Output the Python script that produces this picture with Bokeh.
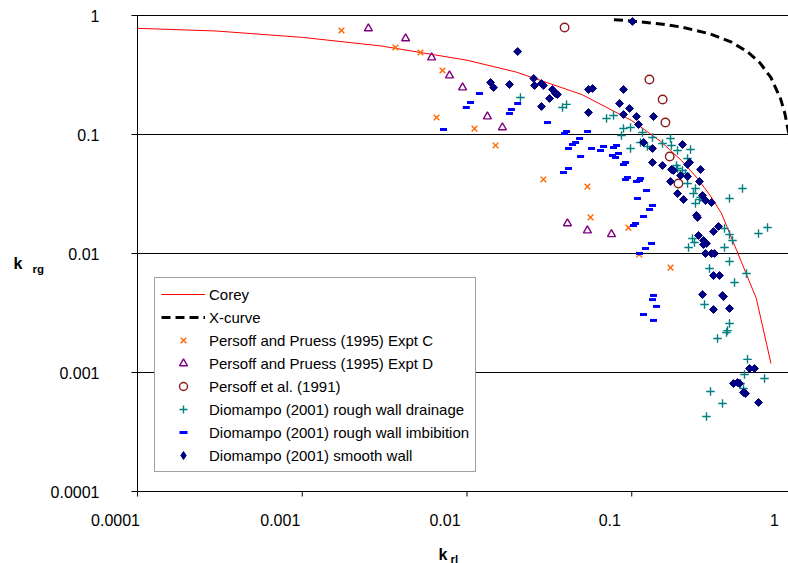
import math
from bokeh.plotting import figure
from bokeh.models import Legend, LegendItem
from bokeh.core.properties import value
from bokeh.embed import file_html
from bokeh.resources import INLINE

FONT = "Liberation Sans"

# ---------------- data ----------------
x_tick_values = [0.0001, 0.001, 0.01, 0.1, 1]
x_tick_labels = ["0.0001", "0.001", "0.01", "0.1", "1"]
y_tick_values = [0.0001, 0.001, 0.01, 0.1, 1]
y_tick_labels = ["0.0001", "0.001", "0.01", "0.1", "1"]

corey_krl = [0.0001, 0.0003, 0.001, 0.003, 0.01, 0.02, 0.05, 0.1, 0.15, 0.2, 0.25, 0.3, 0.35, 0.57, 0.7]
corey_krg = [0.78, 0.741, 0.655, 0.555, 0.421, 0.334, 0.216, 0.131, 0.0874, 0.0606, 0.0429, 0.0306, 0.0218, 0.0042, 0.00119]

xcurve_krl = [0.078, 0.1, 0.15, 0.2, 0.3, 0.4, 0.5, 0.6, 0.7, 0.8, 0.85, 0.9, 0.95, 0.99]
xcurve_krg = [0.922, 0.9, 0.85, 0.8, 0.7, 0.6, 0.5, 0.4, 0.3, 0.2, 0.15, 0.1, 0.05, 0.01]

exptc_krl = [0.00173, 0.00368, 0.00522, 0.0071, 0.00653, 0.0111, 0.0149, 0.0291, 0.0538, 0.0562, 0.0955, 0.111, 0.172]
exptc_krg = [0.748, 0.538, 0.489, 0.345, 0.139, 0.112, 0.0809, 0.0419, 0.0365, 0.0201, 0.0165, 0.0098, 0.0076]

exptd_krl = [0.00252, 0.00424, 0.0061, 0.00783, 0.0094, 0.0133, 0.0164, 0.0407, 0.0538, 0.0753]
exptd_krg = [0.778, 0.641, 0.443, 0.313, 0.248, 0.1416, 0.1146, 0.0179, 0.0156, 0.0145]

p91_krl = [0.0391, 0.128, 0.154, 0.160, 0.170, 0.192]
p91_krg = [0.792, 0.290, 0.197, 0.126, 0.0653, 0.0387]

drain_krl = [0.0211, 0.038, 0.0402, 0.0703, 0.0775, 0.0891, 0.0983, 0.0866, 0.1162, 0.113, 0.1246, 0.1336,
             0.0983, 0.1537, 0.1718, 0.1742, 0.1896, 0.2274, 0.2181, 0.1869, 0.2032, 0.212, 0.1896, 0.2181,
             0.2437, 0.237, 0.2577, 0.2437, 0.2615, 0.4701, 0.392, 0.3656, 0.392, 0.4089, 0.3656, 0.2337,
             0.2403, 0.2211, 0.392, 0.4971, 0.4205, 0.2964, 0.2764, 0.392, 0.3813, 0.3759, 0.3315, 0.588,
             0.6668, 0.5041, 0.4835, 0.6394, 0.4571, 0.4768, 0.3006, 0.3555, 0.2842]
drain_krg = [0.2046, 0.1686, 0.179, 0.1363, 0.1444, 0.1123, 0.1145, 0.0981, 0.1039, 0.0857, 0.0793, 0.0944,
             0.0763, 0.084, 0.0926, 0.0808, 0.0733, 0.0748, 0.0629, 0.0549, 0.0498, 0.047, 0.0518, 0.0388,
             0.0352, 0.0319, 0.0284, 0.0263, 0.0296, 0.0352, 0.029, 0.01622, 0.01444, 0.01286, 0.01123, 0.01337,
             0.01237, 0.01123, 0.00857, 0.00679, 0.00571, 0.00748, 0.00373, 0.00258, 0.00225, 0.00217, 0.00193, 0.01473,
             0.01654, 0.00129, 0.000962, 0.000891, 0.000808, 0.000734, 0.000692, 0.000549, 0.000427]

imb_krl = [0.0072, 0.0099, 0.0105, 0.0119, 0.0203, 0.0186, 0.0181, 0.0308, 0.0402, 0.0391, 0.0539, 0.0482,
           0.0456, 0.0437, 0.0413, 0.057, 0.0674, 0.0646, 0.0775, 0.0808, 0.0764, 0.0797, 0.0831, 0.0489,
           0.0413, 0.0385, 0.0917, 0.0891, 0.0942, 0.0917, 0.1069, 0.113, 0.1114, 0.1229, 0.1083, 0.1336,
           0.1282, 0.1178, 0.1054, 0.1025, 0.1318, 0.1212, 0.1114, 0.1355, 0.1336, 0.1413, 0.1178, 0.1355]
imb_krg = [0.110, 0.1686, 0.1857, 0.2211, 0.1822, 0.1622, 0.1501, 0.1261, 0.106, 0.102, 0.106, 0.0926,
           0.0857, 0.0824, 0.0763, 0.0763, 0.0793, 0.0733, 0.0778, 0.0808, 0.0666, 0.0641, 0.0692, 0.0653,
           0.0518, 0.0479, 0.0582, 0.056, 0.0435, 0.0419, 0.0403, 0.0427, 0.0411, 0.0338, 0.029, 0.0253,
           0.0234, 0.0205, 0.01787, 0.01719, 0.01213, 0.01101, 0.0100, 0.00444, 0.0041, 0.00359, 0.00307, 0.00274]

smooth_krl = [0.0203, 0.0139, 0.0145, 0.0181, 0.0254, 0.0257, 0.0283, 0.0291, 0.0330, 0.0344, 0.0354, 0.0317,
              0.0283, 0.0546, 0.0578, 0.0546, 0.0843, 0.0891, 0.0969, 0.0891, 0.1069, 0.1355, 0.1099, 0.101,
              0.1178, 0.1336, 0.2032, 0.1336, 0.1537, 0.1742, 0.2242, 0.2181, 0.179, 0.1977, 0.2181, 0.2615,
              0.1718, 0.2577, 0.1896, 0.2061, 0.2688, 0.2803, 0.3048, 0.2472, 0.2507, 0.3362, 0.3134, 0.2542,
              0.2726, 0.2842, 0.2726, 0.2803, 0.3048, 0.3178, 0.3134, 0.3409, 0.2688, 0.3555, 0.3605, 0.3134,
              0.392, 0.5185, 0.5561, 0.4146, 0.4385, 0.4508, 0.4768, 0.4903, 0.588]
smooth_krg = [0.498, 0.2735, 0.2483, 0.2631, 0.2955, 0.2581, 0.2683, 0.2581, 0.2388, 0.2211, 0.2169, 0.2007,
              0.1719, 0.2388, 0.2435, 0.153, 0.1822, 0.2388, 0.1654, 0.1473, 0.1416, 0.1416, 0.1213, 0.890,
              0.0857, 0.0763, 0.0824, 0.0582, 0.0549, 0.0508, 0.0582, 0.056, 0.0498, 0.0452, 0.0444, 0.0508,
              0.0403, 0.0403, 0.0319, 0.0284, 0.0307, 0.0279, 0.0268, 0.0209, 0.0201, 0.01686, 0.01531, 0.01417,
              0.01286, 0.01213, 0.0119, 0.0100, 0.0100, 0.0100, 0.00653, 0.00653, 0.00452, 0.00444, 0.00435, 0.00338,
              0.00345, 0.00108, 0.00108, 0.000808, 0.000824, 0.000808, 0.000679, 0.000666, 0.00056]

# plot-area limits (the visible chart is cropped on the right, near krl = 0.894)
plot_x_min, plot_x_max = 0.0001, 0.894
plot_y_min, plot_y_max = 0.0001, 1

# ---------------- figure ----------------
# The frame fills the whole canvas; the axes, ticks and labels are drawn in the
# margins of the log-scaled frame so nothing is clipped.
W, H = 788, 563
LEFT, TOP, BOTTOM = 137, 15, 72          # pixel margins around the plot area
dec_x = (W - LEFT) / (math.log10(plot_x_max) - math.log10(plot_x_min))
dec_y = (H - TOP - BOTTOM) / (math.log10(plot_y_max) - math.log10(plot_y_min))
x_lo = 10 ** (math.log10(plot_x_min) - LEFT / dec_x)
y_lo = 10 ** (math.log10(plot_y_min) - BOTTOM / dec_y)
y_hi = 10 ** (math.log10(plot_y_max) + TOP / dec_y)

p = figure(width=W, height=H, x_axis_type="log", y_axis_type="log",
           x_axis_location=None, y_axis_location=None,
           x_range=(x_lo, plot_x_max), y_range=(y_lo, y_hi),
           output_backend="svg", toolbar_location=None,
           min_border=0, min_border_left=0, min_border_right=0,
           min_border_top=0, min_border_bottom=0)
p.outline_line_color = None
p.background_fill_color = "white"
p.border_fill_color = "white"
p.grid.visible = False

n_y = len(y_tick_values)
n_x = len(x_tick_values)

# horizontal gridlines (the one at 0.0001 is the x axis line)
p.segment(x0=[plot_x_min] * n_y, y0=y_tick_values, x1=[plot_x_max] * n_y, y1=y_tick_values,
          line_color="black", line_width=1)
# y axis line
p.segment(x0=[plot_x_min], y0=[plot_y_min], x1=[plot_x_min], y1=[plot_y_max],
          line_color="black", line_width=1)
# tick marks (outside)
p.ray(x=[plot_x_min] * n_y, y=y_tick_values, length=6, length_units="screen",
      angle=math.pi, line_color="black", line_width=1)
p.ray(x=x_tick_values, y=[plot_y_min] * n_x, length=5, length_units="screen",
      angle=-math.pi / 2, line_color="black", line_width=1)

# tick labels
p.text(x=[plot_x_min] * n_y, y=y_tick_values, text=y_tick_labels, x_offset=-38, y_offset=0,
       text_align="right", text_baseline="middle", text_font=value(FONT),
       text_font_size="16px", text_color="black")
p.text(x=x_tick_values, y=[plot_y_min] * n_x, text=x_tick_labels, x_offset=-22, y_offset=28,
       text_align="center", text_baseline="middle", text_font=value(FONT),
       text_font_size="16px", text_color="black")

# axis titles: k_rg (left) and k_rl (bottom)
p.text(x=[plot_x_min], y=[0.01], text=["k"], x_offset=-124, y_offset=10,
       text_align="left", text_baseline="alphabetic", text_font=value(FONT),
       text_font_size="16px", text_font_style="bold", text_color="black")
p.text(x=[plot_x_min], y=[0.01], text=["rg"], x_offset=-105, y_offset=15,
       text_align="left", text_baseline="alphabetic", text_font=value(FONT),
       text_font_size="11.5px", text_font_style="bold", text_color="black")
p.text(x=[plot_x_min], y=[plot_y_min], text=["k"], x_offset=301, y_offset=63,
       text_align="left", text_baseline="alphabetic", text_font=value(FONT),
       text_font_size="16px", text_font_style="bold", text_color="black")
p.text(x=[plot_x_min], y=[plot_y_min], text=["rl"], x_offset=313, y_offset=67,
       text_align="left", text_baseline="alphabetic", text_font=value(FONT),
       text_font_size="11.5px", text_font_style="bold", text_color="black")

# ---------------- data glyphs ----------------
r_corey = p.line(corey_krl, corey_krg, line_color="#FF0000", line_width=1)
r_x = p.line(xcurve_krl, xcurve_krg, line_color="black", line_width=3, line_dash="9 5")
r_c = p.scatter(exptc_krl, exptc_krg, marker="x", size=8, line_color="#FF6600", line_width=1.4)
r_d = p.scatter(exptd_krl, exptd_krg, marker="triangle", size=8, line_color="#800080",
                fill_color=None, line_width=1.4)
r_91 = p.scatter(p91_krl, p91_krg, marker="circle", size=8.5, line_color="#8B1A1A",
                 fill_color=None, line_width=1.4)
r_dr = p.scatter(drain_krl, drain_krg, marker="cross", size=8.5, line_color="#008080", line_width=1.4)
r_im = p.scatter(imb_krl, imb_krg, marker="dash", size=7, line_color="#0000FF", line_width=3)
r_sm = p.scatter(smooth_krl, smooth_krg, marker="square", angle=math.pi / 4, size=5.6,
                 fill_color="#000080", line_color="#000080", line_width=1)
# hidden twin used only for the legend swatch (legend swatches ignore marker angle)
r_sm_key = p.scatter(smooth_krl, smooth_krg, marker="diamond", size=9,
                     fill_color="#000080", line_color="#000080", line_width=1, visible=False)

legend = Legend(items=[
    LegendItem(label="Corey", renderers=[r_corey]),
    LegendItem(label="X-curve", renderers=[r_x]),
    LegendItem(label="Persoff and Pruess (1995) Expt C", renderers=[r_c]),
    LegendItem(label="Persoff and Pruess (1995) Expt D", renderers=[r_d]),
    LegendItem(label="Persoff et al. (1991)", renderers=[r_91]),
    LegendItem(label="Diomampo (2001) rough wall drainage", renderers=[r_dr]),
    LegendItem(label="Diomampo (2001) rough wall imbibition", renderers=[r_im]),
    LegendItem(label="Diomampo (2001) smooth wall", renderers=[r_sm_key]),
], location=(LEFT + 17, BOTTOM + 19))
legend.label_text_font = FONT
legend.label_text_font_size = "15px"
legend.label_text_color = "black"
legend.glyph_width = 44
legend.glyph_height = 20
legend.label_height = 20
legend.label_standoff = 4
legend.spacing = 3
legend.padding = 6
legend.margin = 0
legend.border_line_color = "#404040"
legend.border_line_width = 1
legend.background_fill_color = "white"
legend.background_fill_alpha = 1
legend.inactive_fill_alpha = 0
p.add_layout(legend)

open("out.html", "w").write(file_html(p, INLINE))
